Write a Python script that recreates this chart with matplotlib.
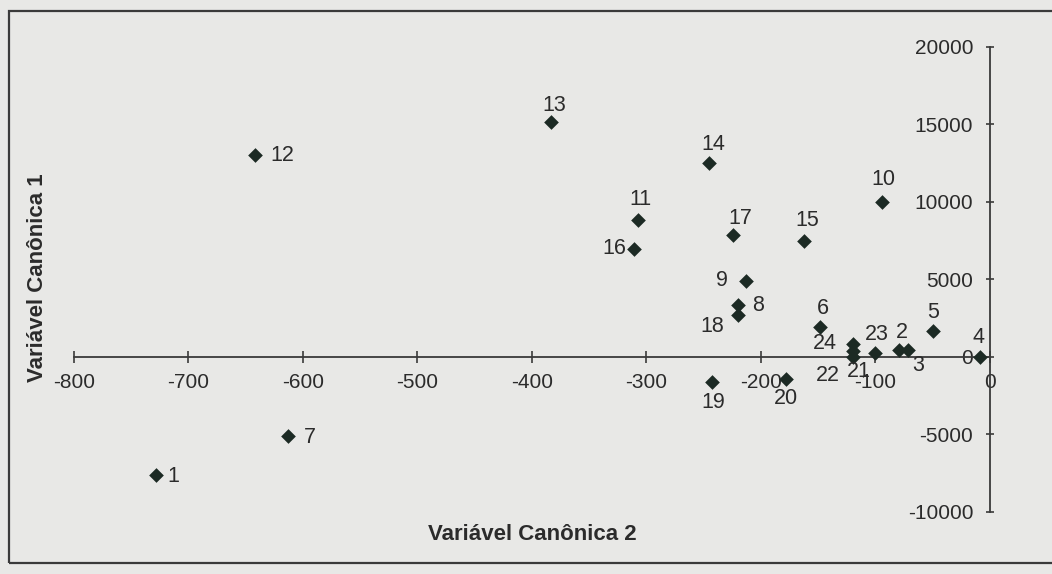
import matplotlib
matplotlib.use("Agg")
import matplotlib.pyplot as plt
from matplotlib.patches import Rectangle

plt.rcParams['font.family'] = ['Liberation Sans', 'DejaVu Sans']

# scores das amostras nas duas variaveis canonicas
amostras = [str(i) for i in range(1, 25)]
can2 = [-728, -79, -72, -9, -50, -148, -613, -220, -213, -94, -307, -642,
        -383, -245, -162, -311, -224, -220, -243, -178, -120, -120, -100, -120]
can1 = [-7600, 450, 450, 0, 1680, 1940, -5100, 3350, 4900, 10000, 8840, 13030,
        15160, 12520, 7480, 6970, 7870, 2710, -1610, -1420, 390, 0, 260, 840]

xticks = [-800, -700, -600, -500, -400, -300, -200, -100, 0]
yticks = [-10000, -5000, 0, 5000, 10000, 15000, 20000]

# deslocamento dos rotulos (pixels) em relacao ao ponto
label_offsets = {
    '1': (17, -2), '2': (2, 18), '3': (11, -15), '4': (-1, 19), '5': (0, 18),
    '6': (2, 18), '7': (22, -1), '8': (20, 0), '9': (-24, 1), '10': (1, 22),
    '11': (2, 20), '12': (27, 0), '13': (3, 17), '14': (4, 18), '15': (3, 21),
    '16': (-20, 0), '17': (7, 17), '18': (-26, -12), '19': (2, -21),
    '20': (0, -19), '21': (6, -21), '22': (-25, -19), '23': (1, 18),
    '24': (-28, 0),
}

bg = '#e8e8e6'
ink = '#2b2b2b'
mark = '#1c2a24'

fig = plt.figure(figsize=(10.52, 5.74), dpi=100, facecolor=bg)
ax = fig.add_axes([0, 0, 1, 1], facecolor=bg)

ax.set_xlim(-864.6, 54.2)
ax.set_ylim(-14000, 23032)

ax.scatter(can2, can1, marker='D', s=56, color=mark, zorder=3, linewidths=0)
for nome, x, y in zip(amostras, can2, can1):
    dx, dy = label_offsets[nome]
    ax.annotate(nome, (x, y), xytext=(dx, dy), textcoords='offset pixels',
                ha='center', va='center', fontsize=15.5, color=ink, zorder=4)

# eixos cruzando na origem
for s in ['top', 'right']:
    ax.spines[s].set_visible(False)
ax.spines['left'].set_position(('data', 0))
ax.spines['bottom'].set_position(('data', 0))
ax.spines['left'].set_bounds(-10000, 20000)
ax.spines['bottom'].set_bounds(-800, 0)
for s in ['left', 'bottom']:
    ax.spines[s].set_color('#3a3a3a')
    ax.spines[s].set_linewidth(1.3)

ax.set_xticks(xticks)
ax.set_yticks(yticks)
ax.set_xticklabels([str(t) for t in xticks])
ax.set_yticklabels([str(t) for t in yticks])
ax.tick_params(axis='x', direction='inout', length=9, width=1.2,
               colors='#3a3a3a', labelcolor=ink, labelsize=15, pad=7)
ax.tick_params(axis='y', direction='inout', length=6, width=1.2,
               colors='#3a3a3a', labelcolor=ink, labelsize=15, pad=9)

fig.text(532 / 1052, 1 - 535 / 574, 'Variável Canônica 2', ha='center',
         va='center', fontsize=16, fontweight='bold', color=ink)
fig.text(38 / 1052, 1 - 278 / 574, 'Variável Canônica 1', ha='center',
         va='center', rotation=90, fontsize=16, fontweight='bold', color=ink)

# moldura do grafico
fig.patches.append(Rectangle((9 / 1052, 1 - 563 / 574), 1.1, 552 / 574,
                             transform=fig.transFigure, fill=False,
                             edgecolor='#3a3a3a', linewidth=1.6))

fig.savefig('out.png', dpi=100, facecolor=bg)
